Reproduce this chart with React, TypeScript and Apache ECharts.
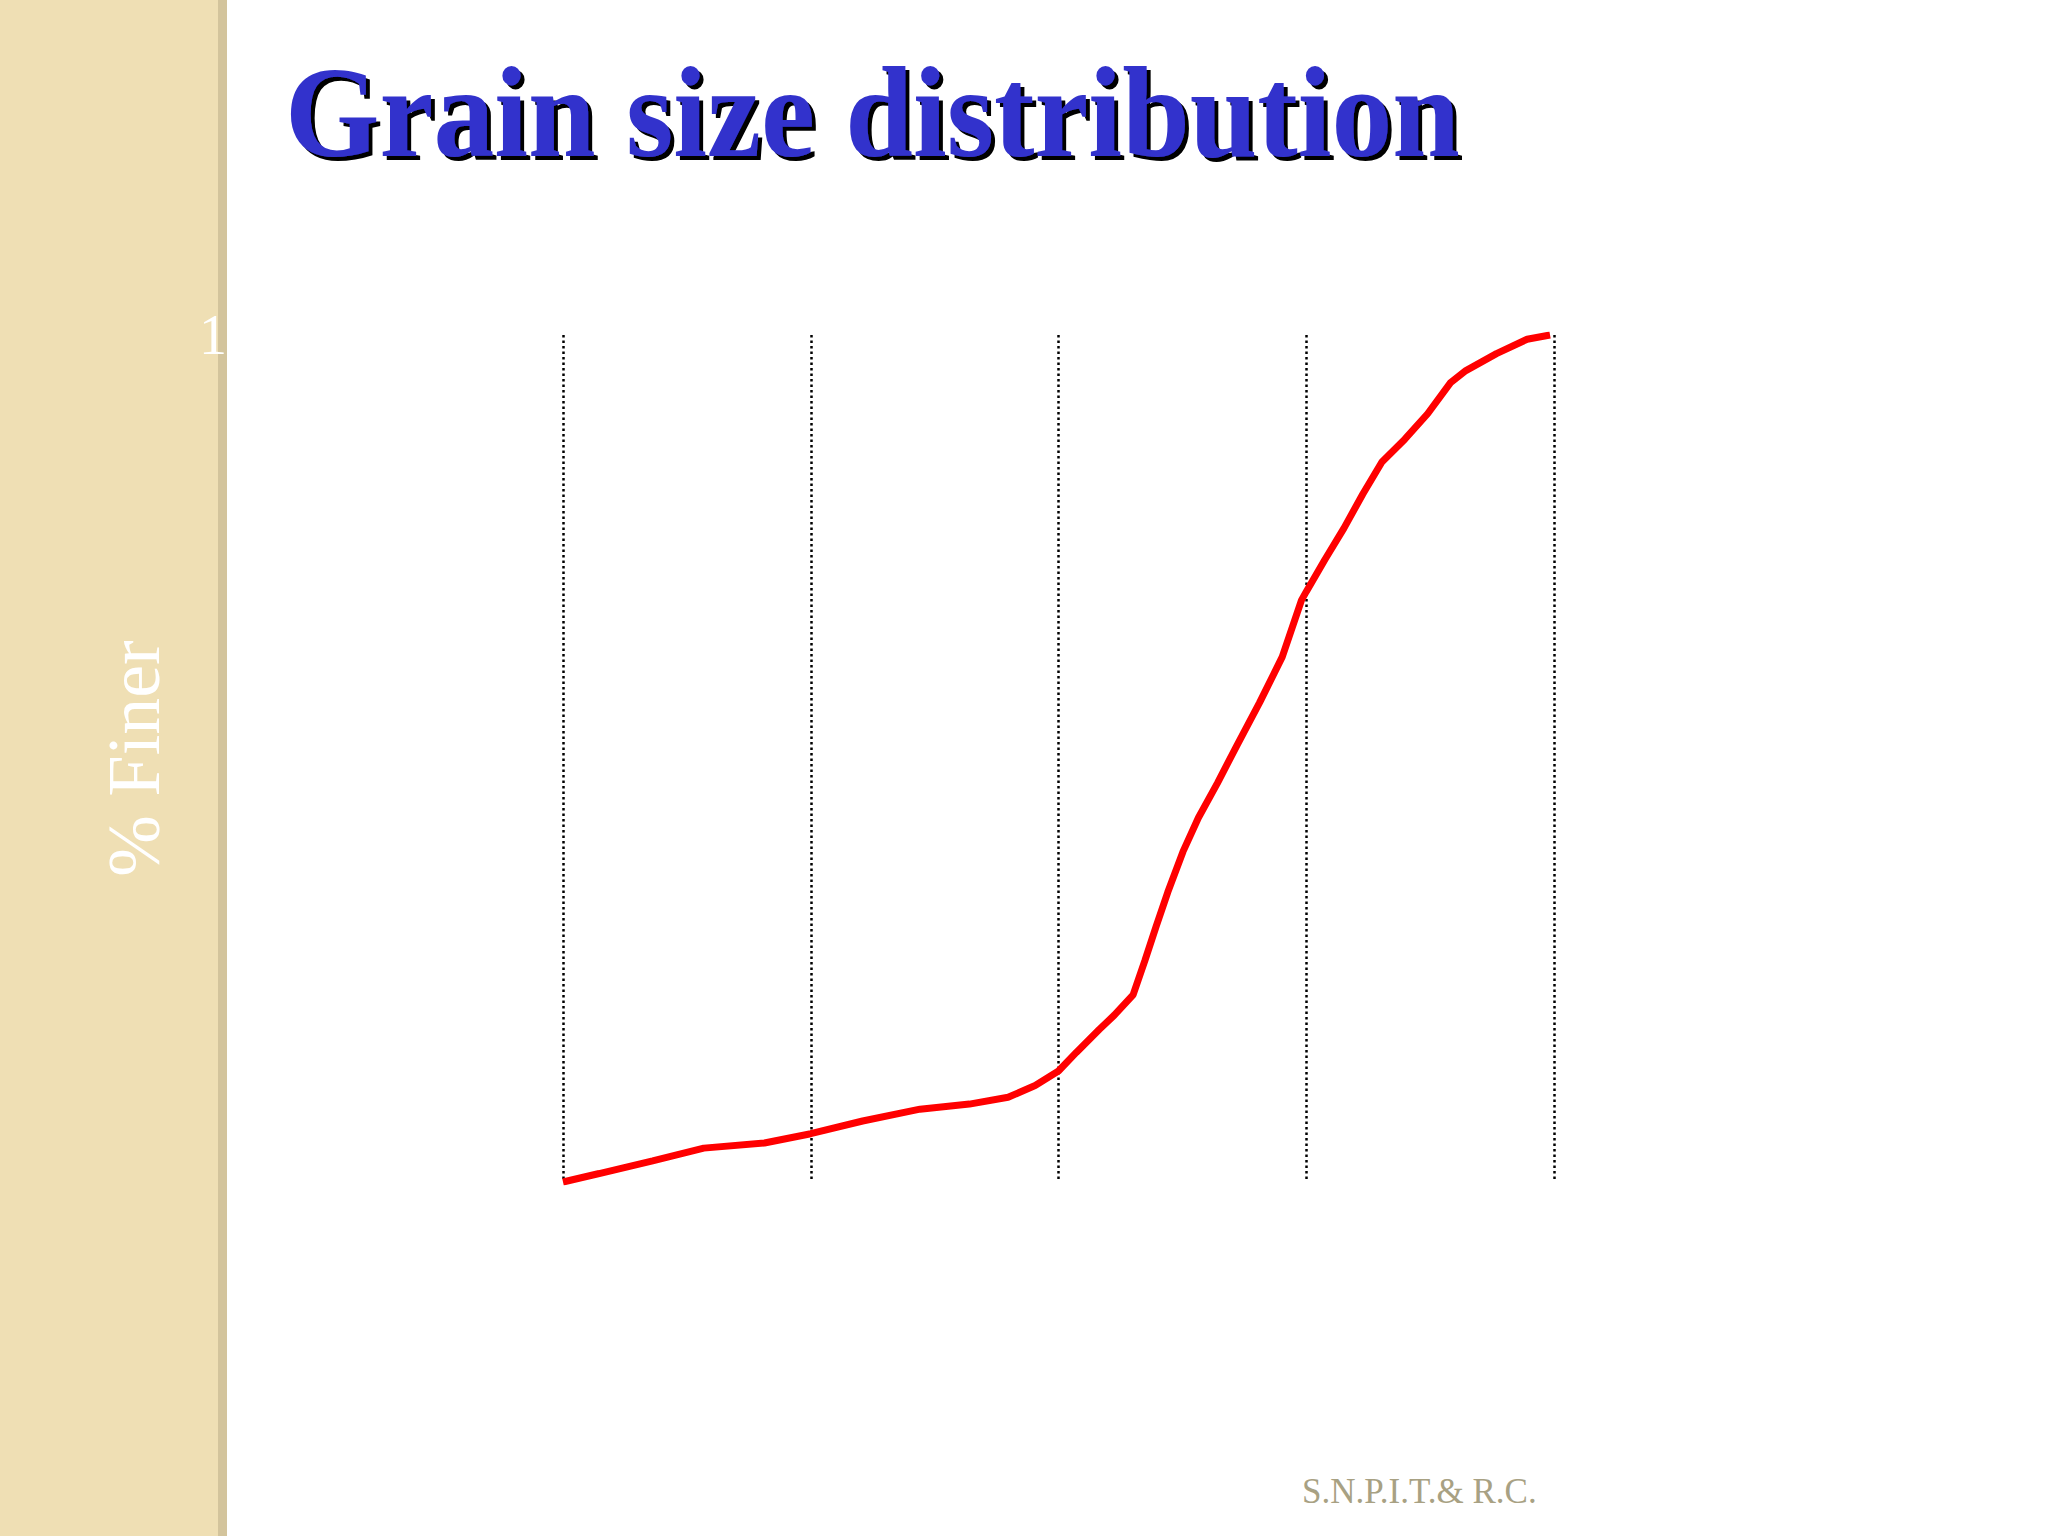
import React, { useEffect, useRef } from "react";
import * as echarts from "echarts";

// Grain size (mm) and cumulative percent finer
const sizeMm = [
  0.001, 0.0014, 0.0023, 0.0037, 0.0065, 0.01, 0.0162, 0.0276, 0.0437, 0.0626,
  0.0805, 0.1, 0.118, 0.146, 0.168, 0.2, 0.223, 0.248, 0.276, 0.318, 0.367,
  0.438, 0.524, 0.648, 0.8, 0.957, 1.0, 1.19, 1.42, 1.69, 2.02, 2.5, 3.09,
  3.83, 4.41, 5.86, 7.79, 9.64,
];
const percentFiner = [
  0, 1.0, 2.5, 4.0, 4.6, 5.7, 7.2, 8.6, 9.2, 10.0, 11.4, 13.1, 15.3, 18.0,
  19.7, 22.1, 26.1, 30.2, 34.2, 39.0, 43.0, 47.1, 51.5, 56.6, 62.0, 68.7,
  69.7, 73.5, 77.2, 81.2, 85.0, 87.7, 90.7, 94.4, 95.8, 97.8, 99.5, 100,
];
const yTicks = [0, 20, 40, 60, 80, 100];
const titleText = "Grain size distribution";
const yAxisName = "% Finer";
const footerText = "S.N.P.I.T.& R.C.";

const SERIF = "'Liberation Serif', 'Times New Roman', 'DejaVu Serif', serif";

export default function App() {
  const ref = useRef<HTMLDivElement>(null);

  useEffect(() => {
    if (!ref.current) return;
    const chart = echarts.init(ref.current, undefined, { renderer: "svg" });
    const data = sizeMm.map((x, i) => [x, percentFiner[i]]);
    chart.setOption({
      animation: false,
      backgroundColor: "#ffffff",
      grid: { left: 563, right: 494, top: 335, bottom: 354 },
      xAxis: {
        type: "log",
        logBase: 10,
        min: 0.001,
        max: 10,
        axisLine: { show: false },
        axisTick: { show: false },
        axisLabel: { show: false },
        splitLine: {
          show: true,
          lineStyle: { color: "#000000", width: 2.5, type: [2.5, 3] },
        },
      },
      yAxis: {
        type: "value",
        min: yTicks[0],
        max: yTicks[yTicks.length - 1],
        interval: 20,
        name: yAxisName,
        nameLocation: "middle",
        nameGap: 392,
        nameRotate: 90,
        nameTextStyle: {
          color: "#ffffff",
          fontSize: 74,
          fontFamily: SERIF,
        },
        axisLine: { show: false },
        axisTick: { show: false },
        splitLine: { show: false },
        axisLabel: {
          color: "#ffffff",
          fontSize: 56,
          fontFamily: SERIF,
          margin: 280,
        },
      },
      graphic: [
        {
          type: "rect",
          z: -10,
          silent: true,
          shape: { x: 0, y: 0, width: 219, height: 1536 },
          style: { fill: "#EFDFB4" },
        },
        {
          type: "rect",
          z: -10,
          silent: true,
          shape: { x: 218, y: 0, width: 9, height: 1536 },
          style: { fill: "#D3C49C" },
        },
        {
          type: "text",
          z: 10,
          x: 285,
          y: 112,
          scaleX: 0.935,
          style: {
            text: titleText,
            fill: "#3333CC",
            font: `bold 130px ${SERIF}`,
            textAlign: "left",
            textVerticalAlign: "middle",
            textShadowColor: "#000000",
            textShadowOffsetX: 4,
            textShadowOffsetY: 4,
            textShadowBlur: 0.6,
          },
        },
        {
          type: "text",
          z: 10,
          x: 1302,
          y: 1491,
          style: {
            text: footerText,
            fill: "#A8A183",
            font: `35px ${SERIF}`,
            textAlign: "left",
            textVerticalAlign: "middle",
          },
        },
      ],
      series: [
        {
          type: "line",
          data,
          showSymbol: false,
          symbol: "none",
          lineStyle: { color: "#FF0000", width: 7 },
          z: 5,
        },
      ],
    });
    return () => chart.dispose();
  }, []);

  return (
    <div
      ref={ref}
      style={{ position: "fixed", left: 0, top: 0, width: 2048, height: 1536 }}
    />
  );
}
